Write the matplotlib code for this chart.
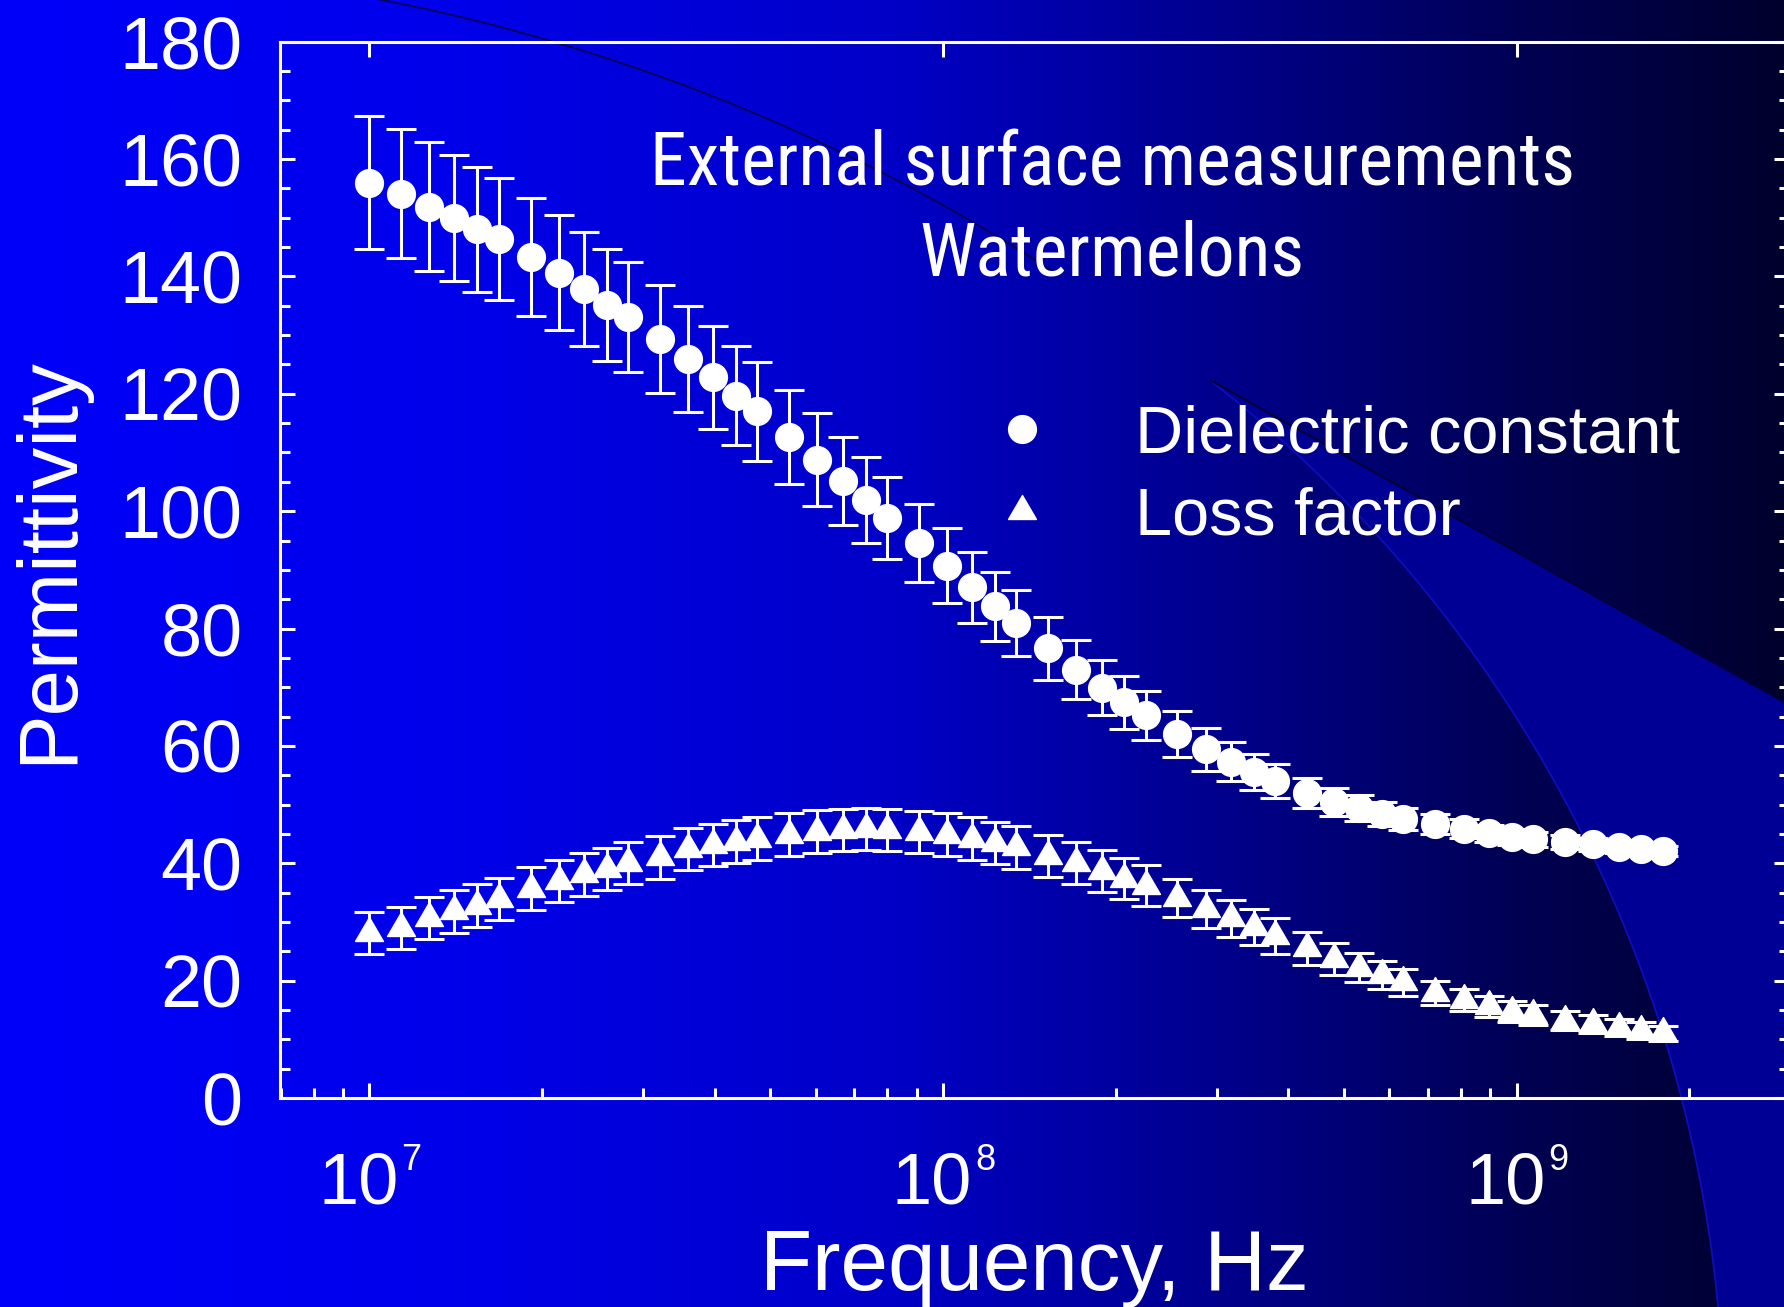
import numpy as np
import matplotlib
matplotlib.use("Agg")
import matplotlib.pyplot as plt
from matplotlib import font_manager
from matplotlib.path import Path
from matplotlib.lines import Line2D
from matplotlib.patches import Polygon
from matplotlib.colors import LinearSegmentedColormap
from matplotlib.ticker import MultipleLocator, NullFormatter

plt.rcParams["font.family"] = ["Liberation Sans", "DejaVu Sans"]

# ---- data --------------------------------------------------------------
freq_hz = [
    1.000e7, 1.135e7, 1.272e7, 1.406e7, 1.542e7,
    1.682e7, 1.911e7, 2.138e7, 2.366e7, 2.596e7,
    2.823e7, 3.211e7, 3.593e7, 3.977e7, 4.361e7,
    4.745e7, 5.389e7, 6.036e7, 6.687e7, 7.340e7,
    7.978e7, 9.081e7, 1.015e8, 1.123e8, 1.232e8,
    1.342e8, 1.524e8, 1.708e8, 1.891e8, 2.070e8,
    2.256e8, 2.562e8, 2.870e8, 3.181e8, 3.485e8,
    3.790e8, 4.305e8, 4.810e8, 5.318e8, 5.817e8,
    6.344e8, 7.215e8, 8.083e8, 8.946e8, 9.824e8,
    1.069e9, 1.214e9, 1.360e9, 1.508e9, 1.651e9,
    1.801e9,
]
dielectric = [
    156.0, 154.1, 151.9, 150.0, 148.0,
    146.3, 143.3, 140.6, 137.9, 135.1,
    133.1, 129.3, 125.9, 122.8, 119.7,
    117.0, 112.7, 108.8, 105.2, 101.9,
    98.9, 94.6, 90.7, 87.0, 83.8,
    80.9, 76.6, 73.0, 69.9, 67.4,
    65.2, 62.0, 59.4, 57.3, 55.6,
    54.0, 52.0, 50.5, 49.4, 48.4,
    47.5, 46.7, 45.9, 45.1, 44.5,
    44.1, 43.6, 43.2, 42.8, 42.5,
    42.1,
]
dielectric_err = [
    11.3, 11.0, 11.0, 10.7, 10.6,
    10.4, 10.1, 9.8, 9.7, 9.5,
    9.4, 9.2, 9.0, 8.8, 8.5,
    8.4, 8.0, 7.9, 7.5, 7.3,
    7.0, 6.7, 6.4, 6.1, 5.9,
    5.6, 5.3, 5.0, 4.7, 4.5,
    4.2, 3.9, 3.6, 3.3, 3.1,
    2.9, 2.6, 2.4, 2.2, 2.1,
    1.9, 1.7, 1.6, 1.5, 1.4,
    1.3, 1.2, 1.1, 1.0, 1.0,
    0.9,
]
loss = [
    28.1, 29.0, 30.7, 31.8, 32.8,
    33.9, 35.7, 37.0, 38.1, 39.0,
    40.0, 41.0, 42.4, 43.1, 43.7,
    44.2, 44.9, 45.4, 45.7, 45.8,
    45.7, 45.3, 44.9, 44.2, 43.5,
    42.7, 41.3, 40.0, 38.7, 37.4,
    36.2, 34.1, 32.2, 30.6, 29.1,
    27.6, 25.5, 23.7, 22.2, 20.9,
    19.7, 17.9, 16.7, 15.6, 14.7,
    14.1, 13.2, 12.6, 12.0, 11.5,
    11.0,
]
loss_err = [
    3.6, 3.6, 3.6, 3.6, 3.6,
    3.6, 3.6, 3.6, 3.6, 3.6,
    3.6, 3.6, 3.6, 3.6, 3.6,
    3.6, 3.6, 3.6, 3.6, 3.6,
    3.6, 3.6, 3.6, 3.6, 3.6,
    3.6, 3.6, 3.6, 3.6, 3.5,
    3.5, 3.3, 3.3, 3.2, 3.1,
    3.0, 2.8, 2.7, 2.5, 2.4,
    2.25, 2.0, 1.9, 1.8, 1.75,
    1.7, 1.55, 1.5, 1.45, 1.4,
    1.3,
]
decades = [1e7, 1e8, 1e9]
decade_exp = ["7", "8", "9"]
series_labels = ["Dielectric constant", "Loss factor"]
title_lines = ["External surface measurements", "Watermelons"]

W, H, DPI = 1784, 1307, 100
WHITE = "white"

# the slide title used a narrow face; use one if the machine has it
names = {f.name for f in font_manager.fontManager.ttflist}
if "Liberation Sans Narrow" in names:
    title_font, title_size = "Liberation Sans Narrow", 53
elif "Roboto Condensed" in names:
    title_font, title_size = "Roboto Condensed", 53.3
else:
    title_font, title_size = "Liberation Sans", 48

fig = plt.figure(figsize=(W / DPI, H / DPI), dpi=DPI)

# ---- slide background: blue gradient plus the template's arcs -----------
bg = fig.add_axes([0, 0, 1, 1], zorder=-10)
bg.set_xlim(0, W)
bg.set_ylim(H, 0)
bg.axis("off")
slide = LinearSegmentedColormap.from_list(
    "slide",
    [(0.0, (0, 0, 0.98)), (0.25, (0, 0, 0.92)), (0.5, (0, 0, 0.78)),
     (0.7, (0, 0, 0.53)), (0.85, (0, 0, 0.33)), (1.0, (0, 0, 0.18))])
bg.imshow(np.linspace(0, 1, 600)[None, :], cmap=slide, extent=[0, W, H, 0],
          aspect="auto", interpolation="bilinear")

# big circle of the template (centre below the slide)
cx, cy, R = 391, 1432, 1333
th = np.radians(np.linspace(5.0, 52.1, 200))
arc_x = cx + R * np.cos(th)
arc_y = cy - R * np.sin(th)
wedge = np.column_stack([
    np.concatenate([[1210, 1784, 1784], arc_x]),
    np.concatenate([[380, 702, H + 5], arc_y]),
])
bg.add_patch(Polygon(wedge, closed=True, facecolor=(0, 0, 0.58), edgecolor="none"))
bg.plot(arc_x, arc_y, color=(0.05, 0.05, 0.75), lw=1.3)
bg.plot([1210, 1784], [380, 702], color=(0, 0, 0.22), lw=1.5)

# thin dark arc near the top
cx2, cy2, R2 = 19.5, 1861, 1896
th2 = np.radians(np.linspace(57.0, 81.0, 200))
bg.plot(cx2 + R2 * np.cos(th2), cy2 - R2 * np.sin(th2), color=(0, 0, 0.3), lw=1.2)

# ---- main axes -----------------------------------------------------------
ax = fig.add_axes([280 / W, (H - 1098) / H, (1789 - 280) / W, (1098 - 41.7) / H])
ax.patch.set_alpha(0)

tri = Path([(0, 1), (-0.875, -0.5), (0.875, -0.5), (0, 1)],
           [Path.MOVETO, Path.LINETO, Path.LINETO, Path.CLOSEPOLY])

common = dict(mfc=WHITE, mec=WHITE, ecolor=WHITE, elinewidth=2.2,
              capsize=11, capthick=2.2, linestyle="none")
ax.errorbar(freq_hz, dielectric, yerr=dielectric_err, marker="o", ms=20, **common)
ax.errorbar(freq_hz, loss, yerr=loss_err, marker=tri, ms=23, **common)

ax.set_xscale("log")
ax.set_xlim(6.985e6, 2.985e9)
ax.set_ylim(0, 180)
ax.yaxis.set_major_locator(MultipleLocator(20))
ax.yaxis.set_minor_locator(MultipleLocator(5))
ax.xaxis.set_major_formatter(NullFormatter())
ax.xaxis.set_minor_formatter(NullFormatter())

for s in ax.spines.values():
    s.set_color(WHITE)
    s.set_linewidth(2.2)
ax.tick_params(which="both", direction="in", color=WHITE, width=2.2,
               top=True, right=True, labelcolor=WHITE)
ax.tick_params(which="major", length=10.8)
ax.tick_params(which="minor", length=7)
ax.tick_params(axis="x", which="minor", top=False)
ax.tick_params(axis="y", labelsize=53, pad=27)

# decade labels 10^n with a small exponent
for xv, ex in zip(decades, decade_exp):
    ax.annotate("10", xy=(xv, 0), xycoords=("data", "axes fraction"),
                xytext=(21.0, -76.3), textcoords="offset points",
                ha="right", va="baseline", fontsize=52, color=WHITE)
    ax.annotate(ex, xy=(xv, 0), xycoords=("data", "axes fraction"),
                xytext=(23.0, -51.8), textcoords="offset points",
                ha="left", va="baseline", fontsize=26, color=WHITE)

ax.set_xlabel("Frequency, Hz", fontsize=61.5, color=WHITE)
ax.xaxis.set_label_coords(0.5, -0.1231)
ax.set_ylabel("Permittivity", fontsize=60, color=WHITE)
ax.yaxis.set_label_coords(-0.127, 0.5095)

# title block
fig.text(1112 / W, (H - 184.3) / H, title_lines[0], ha="center", va="baseline",
         fontsize=title_size, family=title_font, color=WHITE)
fig.text(1112 / W, (H - 275) / H, title_lines[1], ha="center", va="baseline",
         fontsize=title_size, family=title_font, color=WHITE)

handles = [Line2D([], [], linestyle="none", marker="o", ms=20, color=WHITE),
           Line2D([], [], linestyle="none", marker=tri, ms=23, color=WHITE)]
ax.legend(handles, series_labels, loc="upper left", bbox_to_anchor=(0.4476, 0.657),
          frameon=False, fontsize=48, handlelength=2, handletextpad=0.7,
          labelspacing=0.3, borderpad=0, borderaxespad=0, labelcolor=WHITE)

fig.savefig("out.png", dpi=DPI)
